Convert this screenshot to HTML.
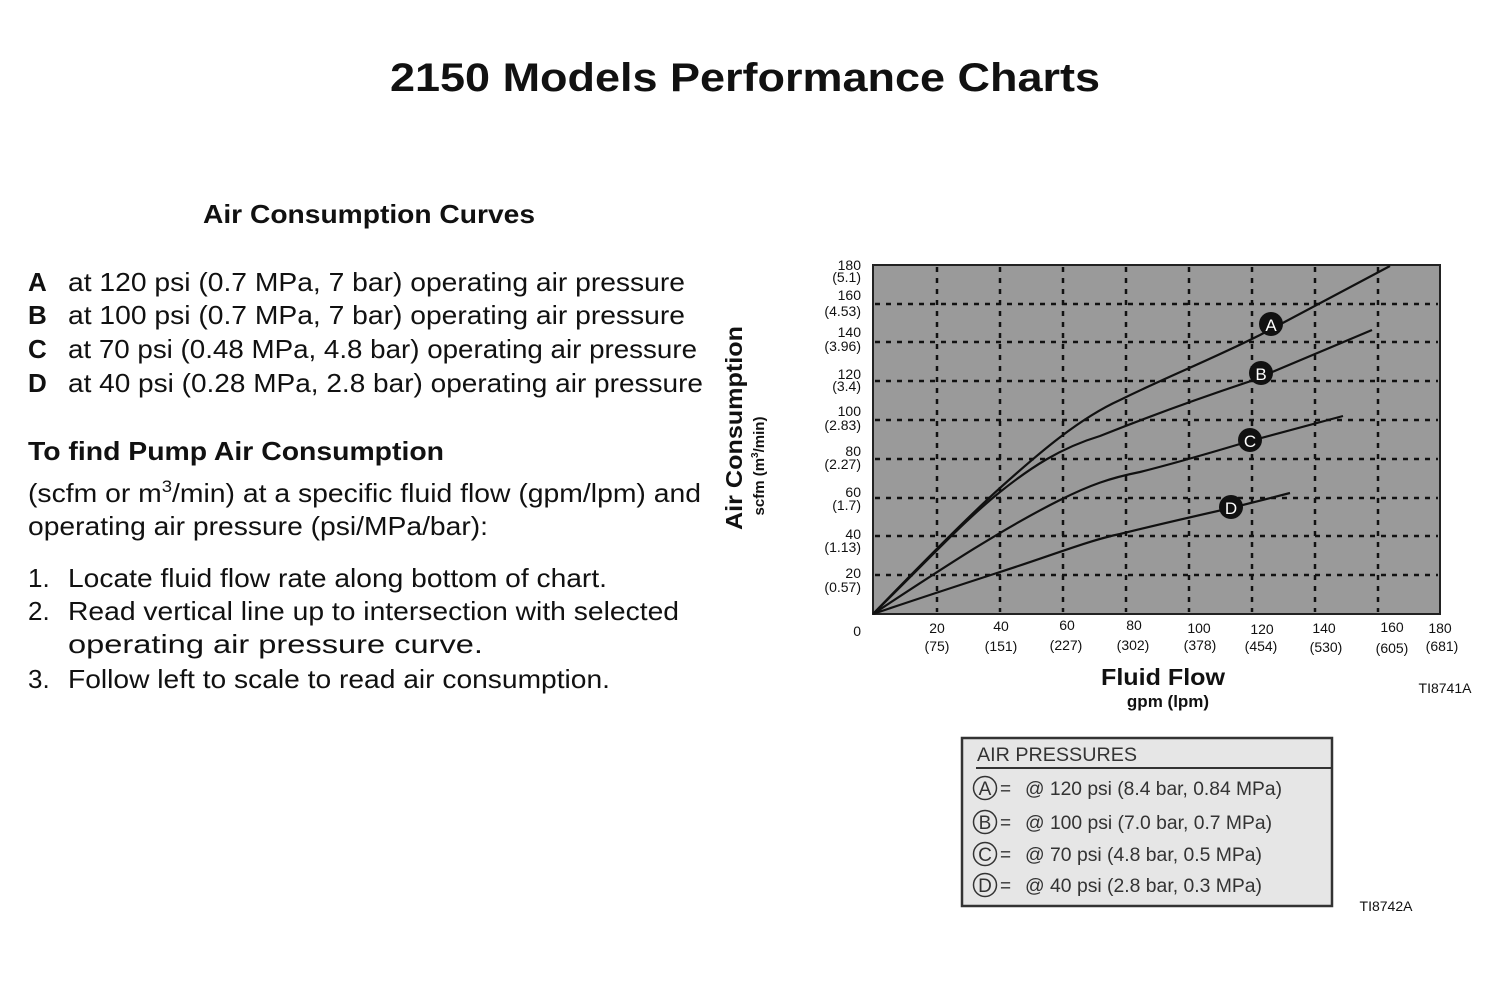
<!DOCTYPE html>
<html><head><meta charset="utf-8"><style>
html,body{margin:0;padding:0;background:#fff;width:1500px;height:1000px;overflow:hidden}
svg{display:block}
text{font-family:"Liberation Sans",Arial,sans-serif;fill:#111}
</style></head><body>
<svg width="1500" height="1000" viewBox="0 0 1500 1000" xmlns="http://www.w3.org/2000/svg">
<text x="745" y="91" text-anchor="middle" font-size="40" font-weight="bold" textLength="710" lengthAdjust="spacingAndGlyphs">2150 Models Performance Charts</text>

<g font-size="26">
<text x="203" y="223" font-weight="bold" textLength="332" lengthAdjust="spacingAndGlyphs">Air Consumption Curves</text>
<text x="28" y="291" font-weight="bold">A</text><text x="68" y="291" textLength="617" lengthAdjust="spacingAndGlyphs">at 120 psi (0.7 MPa, 7 bar) operating air pressure</text>
<text x="28" y="324" font-weight="bold">B</text><text x="68" y="324" textLength="617" lengthAdjust="spacingAndGlyphs">at 100 psi (0.7 MPa, 7 bar) operating air pressure</text>
<text x="28" y="358" font-weight="bold">C</text><text x="68" y="358" textLength="629" lengthAdjust="spacingAndGlyphs">at 70 psi (0.48 MPa, 4.8 bar) operating air pressure</text>
<text x="28" y="392" font-weight="bold">D</text><text x="68" y="392" textLength="635" lengthAdjust="spacingAndGlyphs">at 40 psi (0.28 MPa, 2.8 bar) operating air pressure</text>
<text x="28" y="460" font-weight="bold" textLength="416" lengthAdjust="spacingAndGlyphs">To find Pump Air Consumption</text>
<text x="28" y="502" textLength="673" lengthAdjust="spacingAndGlyphs">(scfm or m<tspan dy="-10" font-size="17">3</tspan><tspan dy="10">/min) at a specific fluid flow (gpm/lpm) and</tspan></text>
<text x="28" y="535" textLength="460" lengthAdjust="spacingAndGlyphs">operating air pressure (psi/MPa/bar):</text>
<text x="28" y="587">1.</text><text x="68" y="587" textLength="539" lengthAdjust="spacingAndGlyphs">Locate fluid flow rate along bottom of chart.</text>
<text x="28" y="620">2.</text><text x="68" y="620" textLength="611" lengthAdjust="spacingAndGlyphs">Read vertical line up to intersection with selected</text>
<text x="68" y="653" textLength="415" lengthAdjust="spacingAndGlyphs">operating air pressure curve.</text>
<text x="28" y="688">3.</text><text x="68" y="688" textLength="542" lengthAdjust="spacingAndGlyphs">Follow left to scale to read air consumption.</text>
</g>

<!-- chart -->
<rect x="873" y="265" width="567" height="349" fill="#9a9a9a" stroke="#222" stroke-width="2"/>
<g stroke="#111" stroke-width="2.5" stroke-dasharray="5,6">
<line x1="937" y1="267" x2="937" y2="612"/><line x1="1000" y1="267" x2="1000" y2="612"/>
<line x1="1063" y1="267" x2="1063" y2="612"/><line x1="1126" y1="267" x2="1126" y2="612"/>
<line x1="1189" y1="267" x2="1189" y2="612"/><line x1="1252" y1="267" x2="1252" y2="612"/>
<line x1="1315" y1="267" x2="1315" y2="612"/><line x1="1378" y1="267" x2="1378" y2="612"/>
<line x1="875" y1="575" x2="1438" y2="575"/><line x1="875" y1="536" x2="1438" y2="536"/>
<line x1="875" y1="498" x2="1438" y2="498"/><line x1="875" y1="459" x2="1438" y2="459"/>
<line x1="875" y1="420" x2="1438" y2="420"/><line x1="875" y1="381" x2="1438" y2="381"/>
<line x1="875" y1="342" x2="1438" y2="342"/><line x1="875" y1="304" x2="1438" y2="304"/>
</g>
<g fill="none" stroke="#111" stroke-width="2.2" stroke-linejoin="round">
<path d="M873,614 C930,555 970,515 1000,488 C1040,452 1080,418 1120,400 C1160,380 1210,360 1260,335 L1390,266"/>
<path d="M873,614 C930,558 965,520 1000,492 C1030,468 1060,448 1100,436 C1140,420 1200,398 1251,381 L1372,330"/>
<path d="M873,614 C940,570 1000,530 1060,500 C1090,485 1110,478 1140,472 C1180,462 1220,450 1250,441 L1343,416"/>
<path d="M873,614 C920,598 960,585 1000,572 C1050,556 1090,540 1120,534 C1160,524 1200,515 1231,508 L1290,493"/>
</g>
<g>
<circle cx="1271" cy="324" r="12" fill="#111"/><text x="1271" y="331" font-size="17" text-anchor="middle" style="fill:#fff">A</text>
<circle cx="1261" cy="373" r="12" fill="#111"/><text x="1261" y="380" font-size="17" text-anchor="middle" style="fill:#fff">B</text>
<circle cx="1250" cy="440" r="12" fill="#111"/><text x="1250" y="447" font-size="17" text-anchor="middle" style="fill:#fff">C</text>
<circle cx="1231" cy="507" r="12" fill="#111"/><text x="1231" y="514" font-size="17" text-anchor="middle" style="fill:#fff">D</text>
</g>
<g font-size="14" text-anchor="end">
<text x="861" y="270">180</text><text x="861" y="282">(5.1)</text>
<text x="861" y="300">160</text><text x="861" y="316">(4.53)</text>
<text x="861" y="337">140</text><text x="861" y="351">(3.96)</text>
<text x="861" y="379">120</text><text x="861" y="391">(3.4)</text>
<text x="861" y="416">100</text><text x="861" y="430">(2.83)</text>
<text x="861" y="456">80</text><text x="861" y="469">(2.27)</text>
<text x="861" y="497">60</text><text x="861" y="510">(1.7)</text>
<text x="861" y="539">40</text><text x="861" y="552">(1.13)</text>
<text x="861" y="578">20</text><text x="861" y="592">(0.57)</text>
<text x="861" y="636">0</text>
</g>
<g font-size="14" text-anchor="middle">
<text x="937" y="633">20</text><text x="937" y="651">(75)</text>
<text x="1001" y="631">40</text><text x="1001" y="651">(151)</text>
<text x="1067" y="630">60</text><text x="1066" y="650">(227)</text>
<text x="1134" y="630">80</text><text x="1133" y="650">(302)</text>
<text x="1199" y="633">100</text><text x="1200" y="650">(378)</text>
<text x="1262" y="634">120</text><text x="1261" y="651">(454)</text>
<text x="1324" y="633">140</text><text x="1326" y="652">(530)</text>
<text x="1392" y="632">160</text><text x="1392" y="653">(605)</text>
<text x="1440" y="633">180</text><text x="1442" y="651">(681)</text>
</g>
<text x="1163" y="685" font-size="23" font-weight="bold" text-anchor="middle" textLength="124" lengthAdjust="spacingAndGlyphs">Fluid Flow</text>
<text x="1168" y="707" font-size="17" font-weight="bold" text-anchor="middle">gpm (lpm)</text>
<text x="1445" y="693" font-size="14" text-anchor="middle">TI8741A</text>
<text transform="translate(742,428) rotate(-90)" font-size="23" font-weight="bold" text-anchor="middle" textLength="204" lengthAdjust="spacingAndGlyphs">Air Consumption</text>
<text transform="translate(764,466) rotate(-90)" font-size="15" font-weight="bold" text-anchor="middle">scfm (m<tspan dy="-6" font-size="10">3</tspan><tspan dy="6">/min)</tspan></text>

<!-- legend -->
<rect x="962" y="738" width="370" height="168" fill="#e6e6e6" stroke="#333" stroke-width="2.5"/>
<line x1="976" y1="768" x2="1332" y2="768" stroke="#333" stroke-width="2"/>
<g font-size="19">
<text x="977" y="761" style="fill:#333" textLength="160" lengthAdjust="spacingAndGlyphs">AIR PRESSURES</text>
<circle cx="985" cy="788" r="11.5" fill="none" stroke="#333" stroke-width="1.5"/><text x="985" y="795" text-anchor="middle" style="fill:#333">A</text>
<text x="1000" y="795" style="fill:#333">=</text><text x="1025" y="795" style="fill:#333" textLength="257" lengthAdjust="spacingAndGlyphs">@ 120 psi (8.4 bar, 0.84 MPa)</text>
<circle cx="985" cy="822" r="11.5" fill="none" stroke="#333" stroke-width="1.5"/><text x="985" y="829" text-anchor="middle" style="fill:#333">B</text>
<text x="1000" y="829" style="fill:#333">=</text><text x="1025" y="829" style="fill:#333" textLength="247" lengthAdjust="spacingAndGlyphs">@ 100 psi (7.0 bar, 0.7 MPa)</text>
<circle cx="985" cy="854" r="11.5" fill="none" stroke="#333" stroke-width="1.5"/><text x="985" y="861" text-anchor="middle" style="fill:#333">C</text>
<text x="1000" y="861" style="fill:#333">=</text><text x="1025" y="861" style="fill:#333" textLength="237" lengthAdjust="spacingAndGlyphs">@ 70 psi (4.8 bar, 0.5 MPa)</text>
<circle cx="985" cy="885" r="11.5" fill="none" stroke="#333" stroke-width="1.5"/><text x="985" y="892" text-anchor="middle" style="fill:#333">D</text>
<text x="1000" y="892" style="fill:#333">=</text><text x="1025" y="892" style="fill:#333" textLength="237" lengthAdjust="spacingAndGlyphs">@ 40 psi (2.8 bar, 0.3 MPa)</text>
</g>
<text x="1386" y="911" font-size="14" text-anchor="middle">TI8742A</text>
</svg>
</body></html>
